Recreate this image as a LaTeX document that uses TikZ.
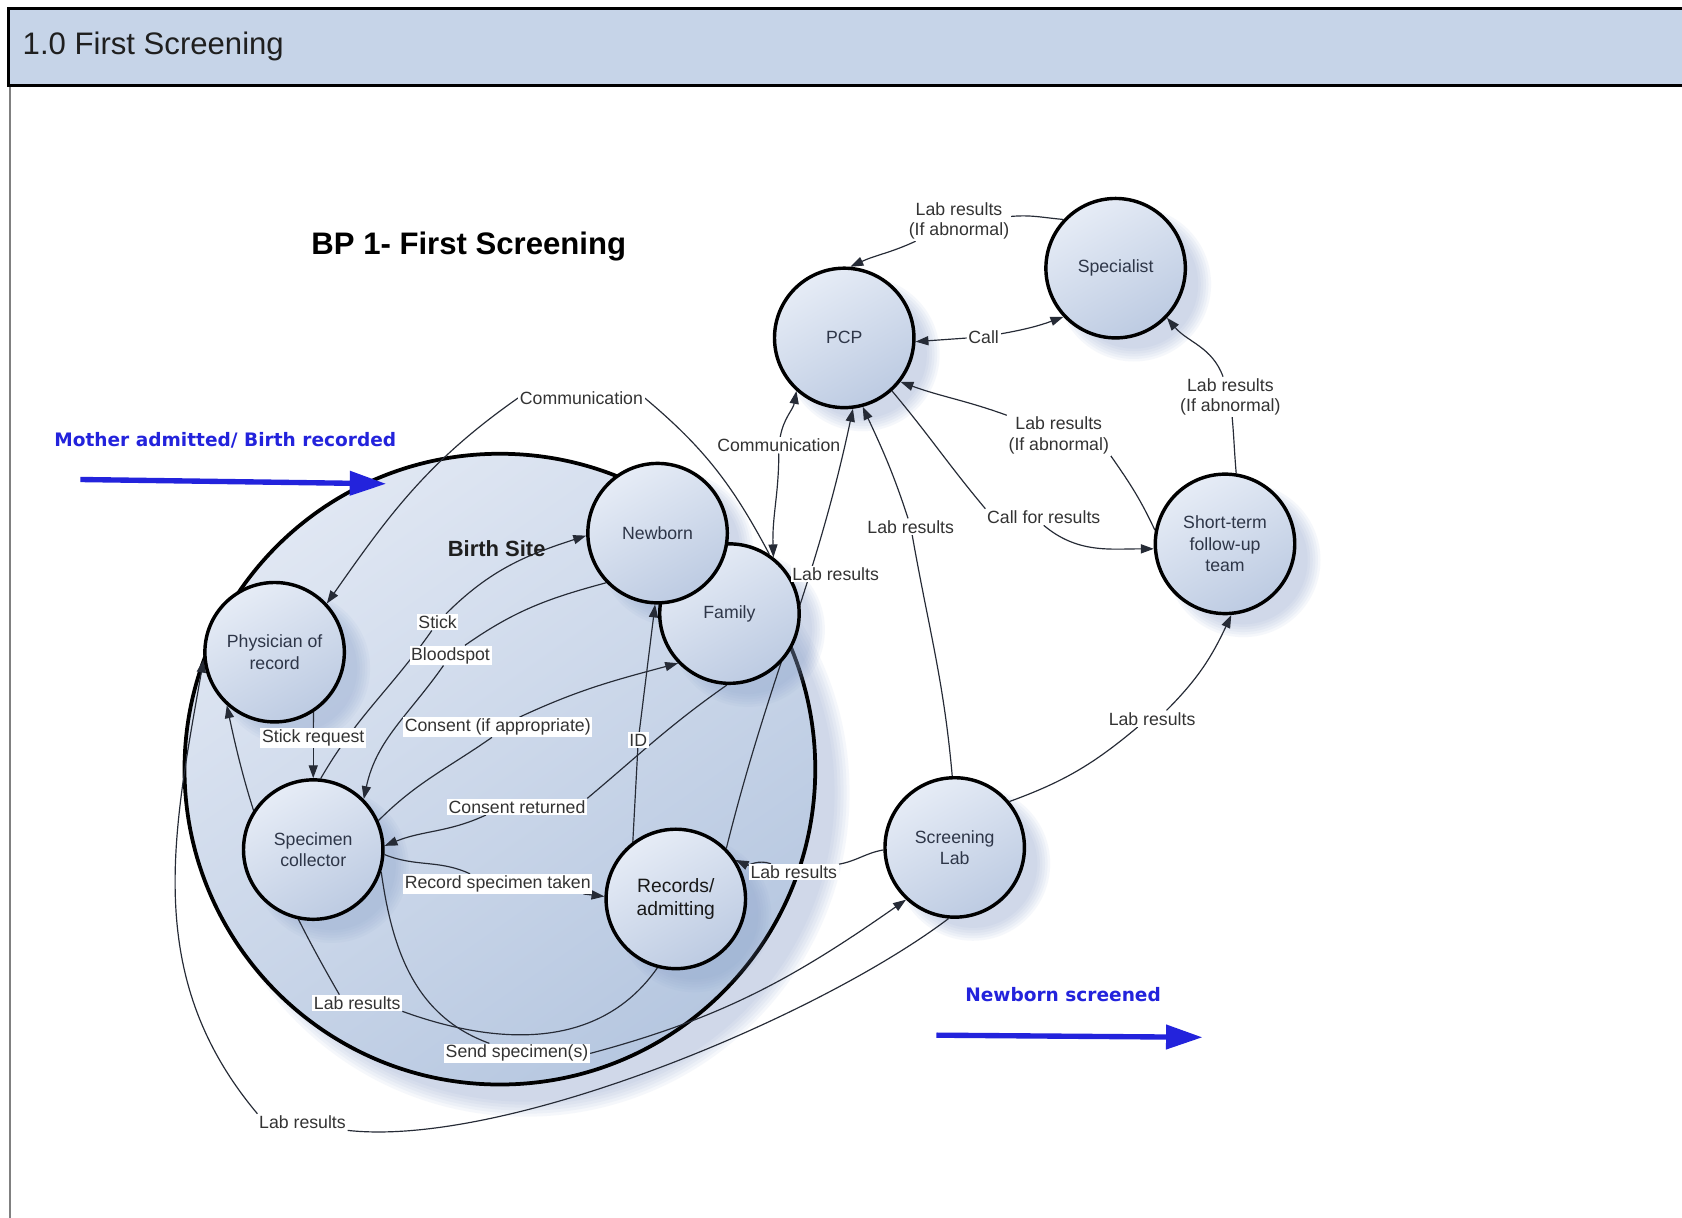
\documentclass[tikz,border=0pt]{standalone}
\usepackage{fontspec}
\setmainfont{Liberation Sans}
\newfontfamily\bluefont{DejaVu Sans}
\usetikzlibrary{arrows.meta}

\definecolor{headfill}{HTML}{C6D4E8}
\definecolor{nodetop}{HTML}{E6ECF6}
\definecolor{nodebot}{HTML}{BDCBE2}
\definecolor{sitetop}{HTML}{E0E7F3}
\definecolor{sitebot}{HTML}{B6C7E0}
\definecolor{shadowcol}{HTML}{8CA3CC}
\definecolor{linecol}{HTML}{262B36}
\definecolor{labeltext}{HTML}{333333}
\definecolor{nodetext}{HTML}{2E3648}
\definecolor{flowblue}{HTML}{2323DC}

\pgfdeclarelayer{back}
\pgfdeclarelayer{shade}
\pgfdeclarelayer{edges}
\pgfsetlayers{back,shade,edges,main}

\newcommand\lblfont{\fontsize{16.5}{19}\selectfont}
\newcommand\rolefont{\fontsize{16.5}{20}\selectfont}

\begin{document}
\begin{tikzpicture}[x=1pt, y=-1pt,
  role/.style={circle, draw=black, line width=3.2pt, minimum size=130pt,
    inner sep=0pt, top color=nodetop, bottom color=nodebot, shading angle=30,
    align=center, text=nodetext, font=\rolefont},
  lbl/.style={fill=white, inner sep=1.5pt, text=labeltext, align=center, font=\lblfont},
  conn/.style={draw=linecol, line width=1.1pt},
  tip/.style={-{Triangle[length=12pt,width=8.5pt]}},
  flow/.style={draw=flowblue, line width=5pt, -{Triangle[length=34pt,width=22pt]}},
  bluetext/.style={text=flowblue, inner sep=0pt, font=\bluefont\bfseries\fontsize{17.3}{20}\selectfont},
]
\useasboundingbox (0,0) rectangle (1568,1135);

% page header and frame
\draw[line width=3pt, fill=headfill] (8,8) rectangle (1600,80);
\node[anchor=west, inner sep=0pt, text=black!88, font=\fontsize{29}{34}\selectfont] (head) at (21,43) {1.0 First Screening};
\draw[black!50, line width=2pt] (9,81) -- (9,1140);

% titles and flow markers
\node[inner sep=0pt, font=\bfseries\fontsize{29}{34}\selectfont] (title) at (437,230) {BP 1- First Screening};
\node[bluetext] (intext) at (210,410) {Mother admitted/ Birth recorded};
\coordinate (inA) at (75,447);
\coordinate (inB) at (360,451);
\draw[flow] (inA) -- (inB);
\node[bluetext] (outtext) at (991,927) {Newborn screened};
\coordinate (outA) at (873,965);
\coordinate (outB) at (1121,967);
\draw[flow] (outA) -- (outB);

% roles
\node[role] (pcp) at (787,315) {PCP};
\node[role] (spec) at (1040,250) {Specialist};
\node[role] (stf) at (1142,507) {Short-term\\follow-up\\team};
\node[role] (fam) at (680,572) {Family};
\node[role] (newb) at (613,497) {Newborn};
\node[role] (phys) at (256,608) {Physician of\\record};
\node[role] (coll) at (292,792) {Specimen\\collector};
\node[role, text=black!90, font=\fontsize{18}{21}\selectfont] (rec) at (630,838) {Records/\\admitting};
\node[role] (slab) at (890,790) {Screening\\Lab};

\node[inner sep=0pt, text=black!88, font=\bfseries\fontsize{20.5}{24}\selectfont] (sitename) at (463,511) {Birth Site};

% flow labels
\node[lbl] (l1) at (894,206) {Lab results\\(If abnormal)};
\node[lbl] (l2) at (917,314) {Call};
\node[lbl] (l3) at (1147,370) {Lab results\\(If abnormal)};
\node[lbl] (l4) at (987,406) {Lab results\\(If abnormal)};
\node[lbl] (l5) at (973,482) {Call for results};
\node[lbl] (l6) at (726,415) {Communication};
\node[lbl] (l7) at (779,535) {Lab results};
\node[lbl] (l8) at (849,491) {Lab results};
\node[lbl] (l9) at (1074,670) {Lab results};
\node[lbl] (l10) at (740,813) {Lab results};
\node[lbl] (l11) at (542,371) {Communication};
\node[lbl] (l12) at (292,688) {Stick request};
\node[lbl] (l13) at (408,580) {Stick};
\node[lbl] (l14) at (420,611) {Bloodspot};
\node[lbl] (l15) at (464,678) {Consent (if appropriate)};
\node[lbl] (l16) at (482,752) {Consent returned};
\node[lbl] (l17) at (595,690) {ID};
\node[lbl] (l18) at (464,824) {Record specimen taken};
\node[lbl] (l19) at (333,935) {Lab results};
\node[lbl] (l20) at (482,982) {Send specimen(s)};
\node[lbl] (l21) at (282,1046) {Lab results};

% white page, birth site container with its soft shadow
\begin{pgfonlayer}{back}
  \fill[white] (0,0) rectangle (1568,1135);
  \foreach \k in {0,...,5}
    \fill[shadowcol, opacity=.08] (490,739) circle[radius=302pt-2.8pt*\k];
  \node[circle, draw=black, line width=3.5pt, minimum size=588pt, inner sep=0pt,
        top color=sitetop, bottom color=sitebot, shading angle=35] (site) at (466,717) {};
\end{pgfonlayer}

% soft shadows of the roles
\begin{pgfonlayer}{shade}
  \foreach \n in {pcp,spec,stf,fam,newb,phys,coll,rec,slab}
    \foreach \k in {0,...,5}
      \fill[shadowcol, opacity=.08] ([shift={(17,15)}]\n.center) circle[radius=72pt-2.4pt*\k];
\end{pgfonlayer}

% information flows
\begin{pgfonlayer}{edges}
  % specialist -> PCP
  \draw[conn] (spec.137) to[out=175,in=5] (l1);
  \draw[conn,tip] (l1) to[out=205,in=25] (pcp.85);
  % PCP <-> specialist
  \draw[conn,tip] (l2) -- (pcp.-3);
  \draw[conn,tip] (l2) to[out=10,in=200] (spec.223);
  % follow-up team -> specialist
  \draw[conn] (stf.81) to[out=95,in=-85] (l3);
  \draw[conn,tip] (l3) to[out=110,in=-50] (spec.-44);
  % follow-up team -> PCP
  \draw[conn] (stf.169) to[out=115,in=-55] (l4.south east);
  \draw[conn,tip] (l4.north west) to[out=160,in=-20] (pcp.-38);
  % PCP -> follow-up team
  \draw[conn] (pcp.-48) to[out=-50,in=130] (l5.north west);
  \draw[conn,tip] (l5.south) to[out=-40,in=180] (stf.184);
  % PCP <-> family
  \draw[conn,tip] (l6) to[out=80,in=-100] (pcp.228);
  \draw[conn,tip] (l6) to[out=-90,in=92] (fam.52);
  % records -> PCP
  \draw[conn,tip] (rec.45) to[out=76,in=-102] (pcp.-83);
  % screening lab -> PCP
  \draw[conn] (slab.92) to[out=95,in=-80] (l8);
  \draw[conn,tip] (l8) to[out=108,in=-65] (pcp.-75);
  % screening lab -> follow-up team
  \draw[conn] (slab.40) to[out=20,in=-140] (l9.-150);
  \draw[conn,tip] (l9.30) to[out=45,in=-115] (stf.-85);
  % screening lab -> records
  \draw[conn] (slab.182) to[out=190,in=10] (l10);
  \draw[conn,tip] (l10) to[out=160,in=-25] (rec.33);
  % family <-> physician
  \draw[conn] (l11.east) to[out=-40,in=118] (fam.56);
  \draw[conn,tip] (l11.west) to[out=215,in=55] (phys.43);
  % physician -> specimen collector
  \draw[conn] (phys.-57) -- (l12);
  \draw[conn,tip] (l12) -- (coll.90);
  % specimen collector -> newborn
  \draw[conn] (coll.84) to[out=60,in=235] (l13);
  \draw[conn,tip] (l13) to[out=45,in=198] (newb.182);
  % newborn -> specimen collector
  \draw[conn] (newb.224) to[out=195,in=35] (l14);
  \draw[conn,tip] (l14) to[out=235,in=78] (coll.45);
  % specimen collector -> family
  \draw[conn] (coll.24) to[out=45,in=-145] (l15.-120);
  \draw[conn,tip] (l15) to[out=25,in=195] (fam.224);
  % family -> specimen collector
  \draw[conn] (fam.268) to[out=215,in=40] (l16.north east);
  \draw[conn,tip] (l16.195) to[out=205,in=22] (coll.3);
  % records -> newborn
  \draw[conn] (rec.127) -- (l17);
  \draw[conn,tip] (l17) -- (newb.-92);
  % specimen collector -> records
  \draw[conn] (coll.-4) to[out=-22,in=155] (l18.160);
  \draw[conn,tip] (l18) -- (rec.178);
  % records -> physician
  \draw[conn] (rec.255) to[out=235,in=-20] (l19.south east);
  \draw[conn,tip] (l19.155) to[out=120,in=-78] (phys.228);
  % specimen collector -> screening lab
  \draw[conn] (coll.-18) to[out=-82,in=160] (l20);
  \draw[conn,tip] (l20.east) to[out=15,in=215] (slab.227);
  % screening lab -> physician
  \draw[conn] (slab.265) .. controls (760,950) and (470,1070) .. (l21.south east);
  \draw[conn,tip] (l21.north west) to[out=130,in=-100] (phys.186);
\end{pgfonlayer}
\end{tikzpicture}
\end{document}
